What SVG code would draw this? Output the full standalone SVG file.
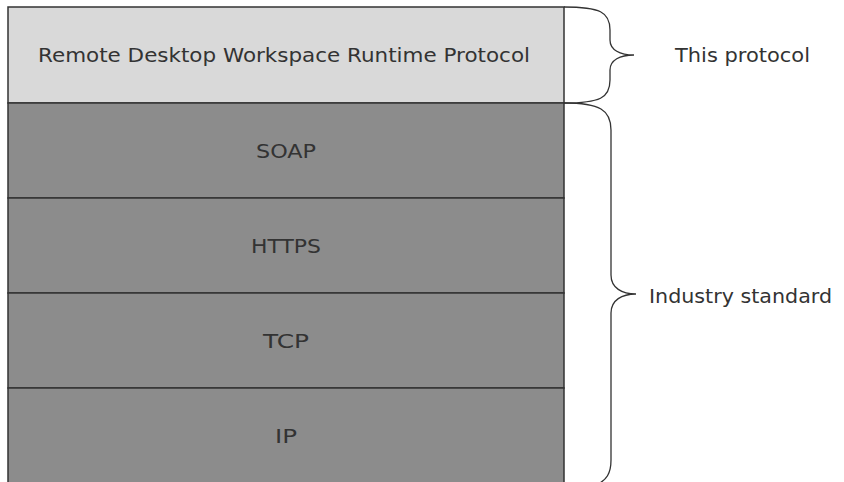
<svg xmlns="http://www.w3.org/2000/svg" width="844" height="482" viewBox="0 0 844 482">
<style>
.layer{stroke:#333;stroke-width:1.5}
.top{fill:#d9d9d9}
.std{fill:#8c8c8c}
.lbl{font-family:"DejaVu Sans",Verdana,sans-serif;font-size:19px;fill:#333;text-anchor:middle;dominant-baseline:central}
.side{font-family:"DejaVu Sans",Verdana,sans-serif;font-size:19px;fill:#333;dominant-baseline:central}
.brace{fill:none;stroke:#333;stroke-width:1.3}
</style>
<rect x="0" y="0" width="844" height="482" fill="#fff"/>
<g id="rdwr">
<rect class="layer top" x="8" y="7" width="556" height="96"/>
<text class="lbl" x="284" y="55" textLength="492" lengthAdjust="spacingAndGlyphs">Remote Desktop Workspace Runtime Protocol</text>
</g>
<g id="soap">
<rect class="layer std" x="8" y="103" width="556" height="95"/>
<text class="lbl" x="286" y="151" textLength="60" lengthAdjust="spacingAndGlyphs">SOAP</text>
</g>
<g id="https">
<rect class="layer std" x="8" y="198" width="556" height="95"/>
<text class="lbl" x="286" y="246" textLength="70" lengthAdjust="spacingAndGlyphs">HTTPS</text>
</g>
<g id="tcp">
<rect class="layer std" x="8" y="293" width="556" height="95"/>
<text class="lbl" x="286" y="341" textLength="46" lengthAdjust="spacingAndGlyphs">TCP</text>
</g>
<g id="ip">
<rect class="layer std" x="8" y="388" width="556" height="100"/>
<text class="lbl" x="286" y="436" textLength="22" lengthAdjust="spacingAndGlyphs">IP</text>
</g>
<g id="connectors">
<path class="brace" d="M564,7 C600,7 610,12 610,30 L610,40 C610,50 620,55 634,55 C620,55 610,60 610,70 L610,80 C610,98 600,103 564,103"/>
<path class="brace" d="M564,103 C600,103 611,110 611,130 L611,275 C611,288 622,294 636,294 C622,294 611,300 611,313 L611,460 C611,474 606,480 598,484"/>
</g>
<g id="label-this">
<text class="side" x="675" y="55" textLength="135" lengthAdjust="spacingAndGlyphs">This protocol</text>
</g>
<g id="label-industry">
<text class="side" x="649" y="296" textLength="183" lengthAdjust="spacingAndGlyphs">Industry standard</text>
</g>
</svg>
